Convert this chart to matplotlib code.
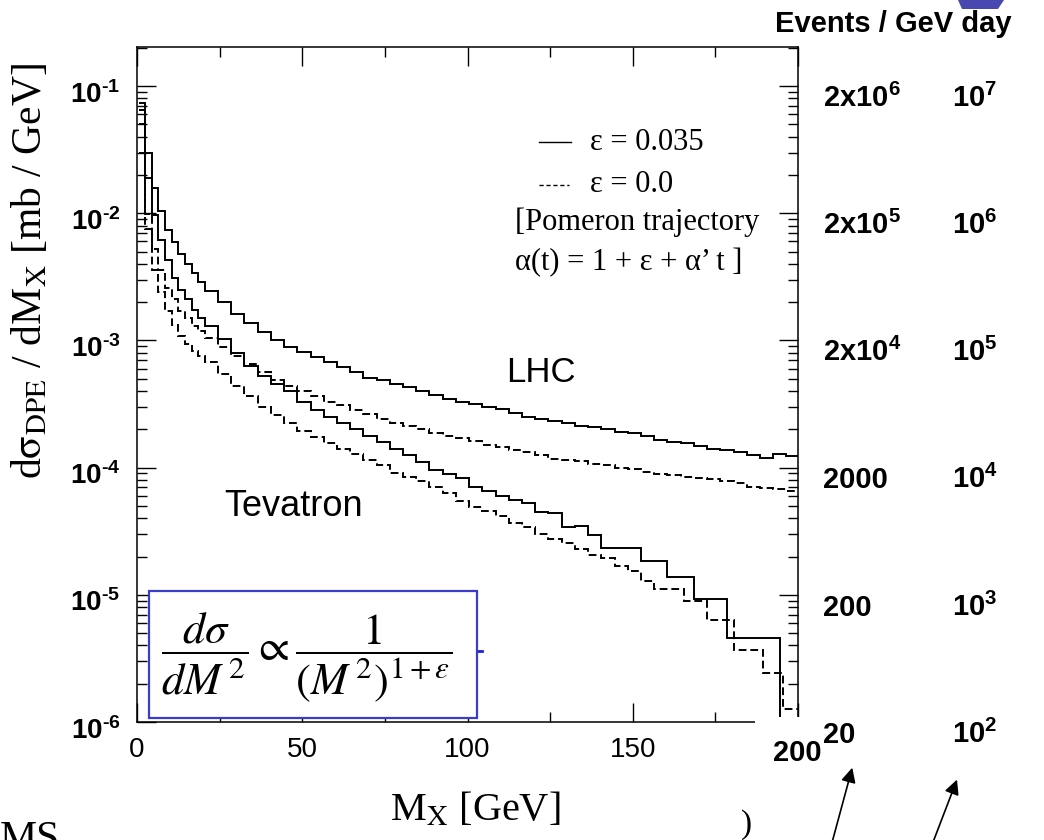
import numpy as np
import matplotlib.pyplot as plt
from matplotlib.patches import Rectangle, Polygon
from matplotlib.lines import Line2D
from matplotlib.ticker import FixedLocator, NullFormatter, LogLocator

plt.rcParams['font.family'] = 'Liberation Sans'
plt.rcParams['mathtext.fontset'] = 'custom'
plt.rcParams['mathtext.rm'] = 'Liberation Sans:bold'
plt.rcParams['mathtext.bf'] = 'Liberation Sans:bold'
plt.rcParams['mathtext.it'] = 'Liberation Sans:bold:italic'

# bin edges (GeV): 2 GeV bins up to 20.5, then 4 GeV, wider bins in the Tevatron tails
fine_edges = np.arange(0.5, 21, 2.0)
lhc_edges = np.concatenate([fine_edges, np.arange(24.5, 201, 4.0)])
tev_solid_edges = np.concatenate([fine_edges, np.arange(24.5, 141, 4.0),
                                  [152.5, 160.5, 168.5, 178.5, 194.5, 200.5]])
tev_dashed_edges = np.concatenate([fine_edges, np.arange(24.5, 157, 4.0),
                                   [165.5, 172.5, 180.5, 189.5, 195.5, 200.5]])

# d sigma / dM_X  [mb/GeV]
lhc_eps035 = [0.073, 0.030, 0.0157, 0.0104, 0.0074, 0.0059, 0.0048, 0.0040, 0.0034, 0.0029,
              2.45e-3, 2.0e-3, 1.62e-3, 1.38e-3, 1.17e-3, 1.0e-3, 8.9e-4, 8.1e-4, 7.4e-4, 6.8e-4,
              6.2e-4, 5.6e-4, 5.1e-4, 4.9e-4, 4.57e-4, 4.27e-4, 3.98e-4, 3.7e-4, 3.47e-4, 3.31e-4,
              3.16e-4, 3.02e-4, 2.88e-4, 2.69e-4, 2.51e-4, 2.4e-4, 2.34e-4, 2.24e-4, 2.14e-4, 2.09e-4,
              2.0e-4, 1.9e-4, 1.86e-4, 1.78e-4, 1.66e-4, 1.58e-4, 1.55e-4, 1.48e-4, 1.41e-4, 1.38e-4,
              1.32e-4, 1.26e-4, 1.2e-4, 1.29e-4, 1.23e-4]
lhc_eps0 = [0.05, 0.0098, 0.0052, 0.0036, 0.0026, 0.0021, 0.0017, 0.0015, 0.0013, 0.00118,
            1.05e-3, 8.9e-4, 7.6e-4, 6.5e-4, 5.6e-4, 4.9e-4, 4.37e-4, 3.98e-4, 3.63e-4, 3.31e-4,
            3.09e-4, 2.82e-4, 2.63e-4, 2.4e-4, 2.24e-4, 2.14e-4, 2.0e-4, 1.86e-4, 1.78e-4, 1.7e-4,
            1.62e-4, 1.51e-4, 1.45e-4, 1.38e-4, 1.32e-4, 1.26e-4, 1.17e-4, 1.15e-4, 1.12e-4, 1.07e-4,
            1.05e-4, 1.0e-4, 9.8e-5, 9.3e-5, 8.9e-5, 8.7e-5, 8.5e-5, 8.3e-5, 8.1e-5, 7.9e-5,
            7.6e-5, 7.1e-5, 6.9e-5, 6.8e-5, 6.6e-5]
tev_eps035 = [0.065, 0.019, 0.0096, 0.0062, 0.0043, 0.0031, 0.0025, 0.0021, 0.00175, 0.0015,
              1.29e-3, 1.02e-3, 7.9e-4, 6.3e-4, 5.25e-4, 4.57e-4, 3.98e-4, 3.31e-4, 2.82e-4, 2.51e-4,
              2.24e-4, 2.0e-4, 1.78e-4, 1.58e-4, 1.41e-4, 1.26e-4, 1.1e-4, 9.5e-5, 8.9e-5, 8.3e-5,
              7.1e-5, 6.5e-5, 6.0e-5, 5.6e-5, 5.25e-5, 4.5e-5, 4.4e-5, 3.4e-5, 3.5e-5, 2.95e-5,
              2.35e-5, 1.86e-5, 1.38e-5, 9.3e-6, 4.6e-6, 5e-7]
tev_eps0 = [0.03, 0.0075, 0.0036, 0.0024, 0.0017, 0.00132, 0.00108, 0.00093, 0.00083, 0.00076,
            6.8e-4, 5.4e-4, 4.37e-4, 3.63e-4, 3.02e-4, 2.57e-4, 2.24e-4, 1.95e-4, 1.74e-4, 1.55e-4,
            1.41e-4, 1.29e-4, 1.15e-4, 1.05e-4, 9.1e-5, 8.5e-5, 7.8e-5, 7.1e-5, 6.3e-5, 5.5e-5,
            4.9e-5, 4.6e-5, 4.2e-5, 3.7e-5, 3.4e-5, 3.0e-5, 2.75e-5, 2.57e-5, 2.3e-5, 2.04e-5,
            1.95e-5, 1.7e-5, 1.55e-5, 1.29e-5,
            1.12e-5, 8.9e-6, 6.3e-6, 3.7e-6, 2.45e-6, 1.26e-6]

decades = [1e-1, 1e-2, 1e-3, 1e-4, 1e-5, 1e-6]
left_labels = ['10$^{\u20101}$', '10$^{\u20102}$', '10$^{\u20103}$',
               '10$^{\u20104}$', '10$^{\u20105}$', '10$^{\u20106}$']
events_col1 = ['2x10$^{6}$', '2x10$^{5}$', '2x10$^{4}$', '2000', '200', '20']
events_col2 = ['10$^{7}$', '10$^{6}$', '10$^{5}$', '10$^{4}$', '10$^{3}$', '10$^{2}$']
x_ticks = [0, 50, 100, 150, 200]
x_ticklabels = ['0', '50', '100', '150', '']

W, H = 1044, 840
def fx(px):
    return px / W
def fy(py):
    return 1 - py / H

fig = plt.figure(figsize=(10.44, 8.4), dpi=100)
ax = fig.add_axes([fx(137), fy(722), fx(798) - fx(137), fy(47) - fy(722)])

lw = 1.4
dash = (0, (4, 2))
ax.stairs(lhc_eps035, lhc_edges, baseline=None, color='black', lw=lw)
ax.stairs(lhc_eps0, lhc_edges, baseline=None, color='black', lw=lw, linestyle=dash)
ax.stairs(tev_eps035, tev_solid_edges, baseline=None, color='black', lw=lw)
ax.stairs(tev_eps0, tev_dashed_edges, baseline=None, color='black', lw=lw, linestyle=dash)

ax.set_yscale('log')
ax.set_xlim(0, 200)
ax.set_ylim(1e-6, 0.2028)
ax.set_xticks(x_ticks)
ax.set_xticklabels(x_ticklabels, fontsize=20)
ax.xaxis.set_minor_locator(FixedLocator([25, 75, 125, 175]))
ax.yaxis.set_major_locator(FixedLocator(decades))
ax.yaxis.set_minor_locator(LogLocator(base=10, subs=np.arange(2, 10), numticks=20))
ax.yaxis.set_major_formatter(NullFormatter())
ax.yaxis.set_minor_formatter(NullFormatter())
ax.tick_params(which='both', direction='in', top=True, right=True, width=1.0)
ax.tick_params(which='major', length=14)
ax.tick_params(which='minor', length=7)
ax.tick_params(axis='x', pad=11)
for sp in ax.spines.values():
    sp.set_linewidth(1.1)

lab_kw = dict(fontsize=20, fontweight='bold', family='Liberation Sans',
              math_fontfamily='custom', annotation_clip=False, zorder=6)
for d, lbl in zip(decades, left_labels):
    ax.annotate(lbl, xy=(0, d), xycoords=('axes fraction', 'data'), xytext=(-12, -12),
                textcoords='offset points', ha='right', va='baseline', **lab_kw)
lab_kw['fontsize'] = 21
for d, l1, l2 in zip(decades, events_col1, events_col2):
    ax.annotate(l1, xy=(1, d), xycoords=('axes fraction', 'data'), xytext=(18, -15),
                textcoords='offset points', ha='left', va='baseline', **lab_kw)
    ax.annotate(l2, xy=(1, d), xycoords=('axes fraction', 'data'), xytext=(111, -15),
                textcoords='offset points', ha='left', va='baseline', **lab_kw)

# white patch hiding the lower right corner, with bold "200"
ax.add_patch(Rectangle((fx(755), fy(772)), fx(835) - fx(755), fy(717) - fy(772),
                       transform=fig.transFigure, facecolor='white', edgecolor='none',
                       clip_on=False, zorder=5))
fig.text(fx(797), fy(753), '200', ha='center', va='center', fontsize=21,
         fontweight='bold', zorder=7)
fig.text(fx(893), fy(24), 'Events / GeV day', ha='center', va='center', fontsize=21,
         fontweight='bold')

# legend
ax.plot([0.608, 0.657], [0.859, 0.859], transform=ax.transAxes, color='black', lw=1.0)
ax.plot([0.608, 0.653], [0.7956, 0.7956], transform=ax.transAxes, color='black', lw=1.0,
        linestyle=(0, (3, 2)))
serif = dict(family='Liberation Serif', math_fontfamily='stix')
ax.text(0.685, 0.859, 'ε = 0.035', transform=ax.transAxes, va='center', fontsize=22, **serif)
ax.text(0.685, 0.7956, 'ε = 0.0', transform=ax.transAxes, va='center', fontsize=22, **serif)
ax.text(0.572, 0.741, '[Pomeron trajectory', transform=ax.transAxes, va='center',
        fontsize=22, **serif)
ax.text(0.572, 0.681, 'α(t) = 1 + ε + α’ t ]', transform=ax.transAxes, va='center',
        fontsize=22, **serif)

ax.text(fx(541), fy(372), 'LHC', transform=fig.transFigure, ha='center', va='center',
        fontsize=25)
ax.text(fx(294), fy(506), 'Tevatron', transform=fig.transFigure, ha='center', va='center',
        fontsize=26)

# formula box
fig.patches.append(Rectangle((fx(149), fy(718)), fx(477) - fx(149), fy(591) - fy(718),
                             transform=fig.transFigure, facecolor='white',
                             edgecolor='#3b3bcc', lw=1.6, zorder=3))
fig.add_artist(Line2D([fx(478), fx(482)], [fy(651), fy(651)], color='#2020dd', lw=2,
                      zorder=3))
fig.text(fx(307), fy(658), r'$\dfrac{d\sigma}{dM^{\,2}} \propto \dfrac{1}{(M^{\,2})^{1+\varepsilon}}$',
         ha='center', va='center', fontsize=32, zorder=4, math_fontfamily='stix')

# axis titles
fig.text(fx(30), fy(271), r'd$\mathrm{\sigma}_{\mathrm{DPE}}$ / dM$_{\mathrm{X}}$ [mb / GeV]',
         rotation=90, ha='center', va='center', fontsize=30, **serif)
fig.text(fx(475), fy(810), r'M$_{\mathrm{X}}$ [GeV]', ha='center', va='center',
         fontsize=29, **serif)

# stray bits of the slide
fig.text(0, fy(850), 'MS', ha='left', va='baseline', fontsize=30, **serif)
fig.text(fx(747), fy(825), ')', ha='center', va='center', fontsize=24, **serif)
for tip, tail in [((853, 765), (830, 850)), ((958, 777), (930, 850))]:
    fig.add_artist(plt.Annotation('', xy=(fx(tip[0]), fy(tip[1])), xycoords='figure fraction',
                                  xytext=(fx(tail[0]), fy(tail[1])), textcoords='figure fraction',
                                  arrowprops=dict(arrowstyle='-|>', color='black', lw=1.2,
                                                  mutation_scale=22)))
fig.patches.append(Polygon([[fx(958), fy(0)], [fx(1004), fy(0)], [fx(998), fy(9)],
                            [fx(962), fy(9)]], closed=True, transform=fig.transFigure,
                           facecolor='#4848b0', edgecolor='none'))

fig.savefig('out.png', dpi=100)
